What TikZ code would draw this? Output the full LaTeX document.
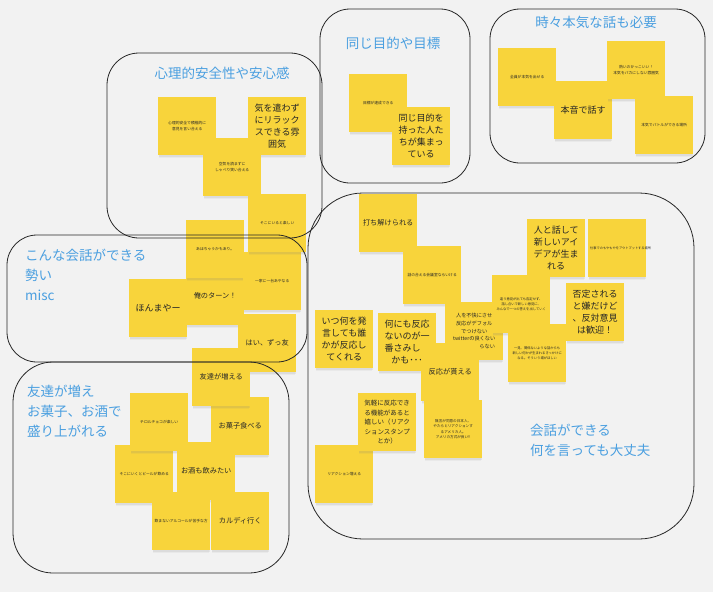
\documentclass[tikz,border=0pt]{standalone}
\usepackage{fontspec}
\setmainfont{Noto Sans CJK JP}
\usetikzlibrary{shadows}
\definecolor{sticky}{HTML}{F8D43B}
\definecolor{ttlblue}{HTML}{4A9FE0}
\definecolor{paper}{HTML}{F2F2F2}

\begin{document}
\begin{tikzpicture}[x=1pt,y=-1pt,
            note/.style={fill=sticky,anchor=north west,minimum width=58pt,minimum height=58pt,
              inner sep=2pt,text width=54pt,align=center,text=black!85,
              drop shadow={shadow xshift=0pt,shadow yshift=-3.5pt,shadow scale=.97,opacity=.08},
              drop shadow={shadow xshift=0pt,shadow yshift=-2pt,shadow scale=.98,opacity=.12}},
            big/.style={font=\fontsize{9}{12}\selectfont},
            mid/.style={font=\fontsize{7.2}{10}\selectfont},
            small/.style={font=\fontsize{6.5}{9.5}\selectfont},
            smaller/.style={font=\fontsize{5.2}{7.7}\selectfont},
            tiny/.style={font=\fontsize{3.8}{5.5}\selectfont},
            ttl/.style={text=ttlblue,font=\fontsize{13.5}{20}\selectfont,align=left,inner sep=0pt},
            frame/.style={draw=black!85,line width=.8pt,rounded corners=30pt}
          ]
          \useasboundingbox (0,0) rectangle (713,592);
          \fill[paper] (0,0) rectangle (713,592);

          % titles
          \node[ttl] (t-anshin) at (222,73) {心理的安全性や安心感};
          \node[ttl] (t-mokuteki) at (393,43) {同じ目的や目標};
          \node[ttl] (t-honki) at (596,22) {時々本気な話も必要};
          \node[ttl,anchor=west] (t-kaiwa) at (25,275) {こんな会話ができる\\勢い\\misc};
          \node[ttl,anchor=west] (t-tomodachi) at (27,411) {友達が増え\\お菓子、お酒で\\盛り上がれる};
          \node[ttl,anchor=west] (t-daijoubu) at (530,440) {会話ができる\\何を言っても大丈夫};

          % psychological safety
          \node[note,tiny] (n-sekkyoku) at (158,97) {心理的安全で積極的に\\意見を言い合える};
          \node[note,big] (n-relax) at (248,97) {気を遣わず\\にリラック\\スできる雰\\囲気};
          \node[note,tiny] (n-kuuki) at (203,138) {空気を読まずに\\しゃべり笑い合える};

          % misc
          \node[note,mid] (n-turn) at (186,267) {俺のターン！};
          \node[note,tiny] (n-aho) at (186,220) {あほちゃうかもあり。};
          \node[note,tiny] (n-ikka) at (243,252) {一家に一台あやなる};
          \node[note,tiny] (n-tanoshii) at (248,194) {そこにいると楽しい};
          \node[note,big] (n-honma) at (129,279) {ほんまやー};
          \node[note,mid] (n-zutto) at (238,314) {はい、ずっ友};

          % friends, snacks and drinks
          \node[note,mid] (n-okashi) at (211,397) {お菓子食べる};
          \node[note,mid] (n-fueru) at (192,348) {友達が増える};
          \node[note,tiny] (n-beer) at (115,445) {そこにいくとビールが飲める};
          \node[note,tiny] (n-tirol) at (130,393) {チロルチョコが楽しい};
          \node[note,mid] (n-osake) at (177,442) {お酒も飲みたい};
          \node[note,tiny] (n-nomenai) at (152,492) {飲まないアルコールが苦手な方};
          \node[note,mid] (n-kaldi) at (211,492) {カルディ行く};

          % same goal
          \node[note,tiny] (n-tassei) at (349,74) {目標が達成できる};
          \node[note,big] (n-onaji) at (392,107) {同じ目的を\\持った人た\\ちが集まっ\\ている};

          % serious talk
          \node[note,tiny] (n-zenin) at (498,48) {全員が本気を出せる};
          \node[note,big] (n-honne) at (554,81) {本音で話す};
          \node[note,tiny] (n-atsui) at (607,41) {熱いのかっこいい！\\本気をバカにしない雰囲気};
          \node[note,tiny] (n-battle) at (635,96) {本気でバトルができる場所};

          % anything goes
          \node[note,mid] (n-uchitoke) at (359,194) {打ち解けられる};
          \node[note,tiny] (n-kaigi) at (403,246) {話の合える会議室ならいける};
          \node[note,big] (n-idea) at (527,219) {人と話して\\新しいアイ\\デアが生ま\\れる};
          \node[note,tiny,font=\fontsize{3.2}{4.5}\selectfont] (n-moya) at (588,219) {仕事でのもやもやをアウトプットする場所};
          \node[note,big] (n-itsu) at (315,310) {いつ何を発\\言しても誰\\かが反応し\\てくれる};
          \node[note,big] (n-nanimo) at (378,313) {何にも反応\\ないのが一\\番さみしい\\かも･･･};
          \node[note,smaller] (n-fukai) at (445,302) {人を不快にさせ\\反応がデフォル\\でつけない\\twitterの良くない\\ところはいらない};
          \node[note,tiny,font=\fontsize{3.3}{5}\selectfont] (n-hitei) at (492,275) {違う意見が出ても否定せず、\\話し合いで新しい意見に、\\みんなで一つの答えを出していく};
          \node[note,tiny,font=\fontsize{3.3}{5}\selectfont] (n-ikken) at (508,324) {一見、関係ないような話からも\\新しい何かが生まれるきっかけに\\なる。そういう場がほしい};
          \node[note,big] (n-kangei) at (566,283) {否定される\\と嫌だけど\\、反対意見\\は歓迎！};
          \node[note,mid] (n-morau) at (421,343) {反応が貰える};
          \node[note,tiny] (n-fueru2) at (315,445) {リアクション増える};
          \node[note,small] (n-kigaru) at (358,393) {気軽に反応でき\\る機能があると\\嬉しい（リアク\\ションスタンプ\\とか）};
          \node[note,tiny,font=\fontsize{3.6}{5.5}\selectfont] (n-america) at (424,400) {無言が同意の日本人、\\やたらとリアクションす\\るアメリカ人。\\アメリカ方式が良い!!};

          % frames
          \draw[frame,rounded corners=32pt] (107,53) rectangle (322,238);
          \draw[frame] (320,9) rectangle (470,183);
          \draw[frame] (490,9) rectangle (705,163);
          \draw[frame] (7,235) rectangle (307,362);
          \draw[frame,rounded corners=40pt] (13,362) rectangle (289,573);
          \draw[frame,rounded corners=55pt] (308,193) rectangle (694,539);
          \end{tikzpicture}
\end{document}
